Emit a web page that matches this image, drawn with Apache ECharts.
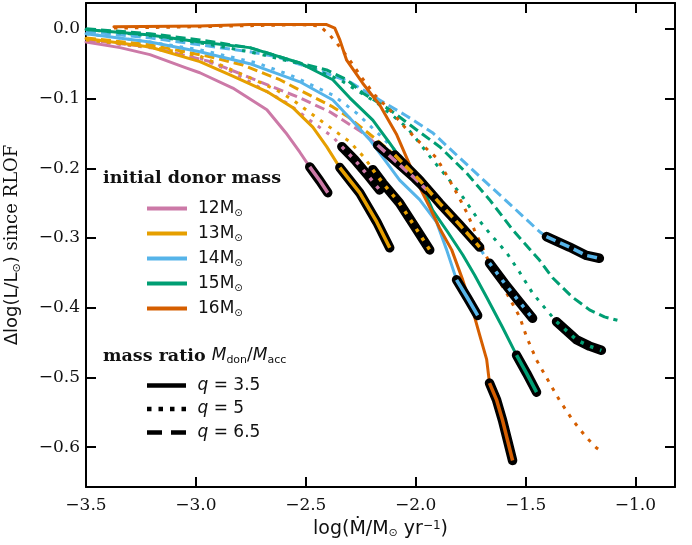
<!DOCTYPE html>
<html>
<head>
<meta charset="utf-8">
<script src="https://cdn.jsdelivr.net/npm/echarts@6/dist/echarts.min.js"></script>
<style>
html,body{margin:0;padding:0;background:#fff}
#chart{width:692px;height:545px}
</style>
</head>
<body>
<div id="chart"></div>
<script>
// ---- tracks: [log(Mdot), dlog L since RLOF] ----
var m12q35 = [[-3.5,-0.019],[-3.345,-0.027],[-3.209,-0.037],[-3.045,-0.056],[-2.982,-0.063],[-2.832,-0.085],[-2.677,-0.116],[-2.591,-0.149],[-2.527,-0.177],[-2.482,-0.198],[-2.436,-0.218],[-2.400,-0.235]];
var m12q5 = [[-3.5,-0.017],[-3.209,-0.027],[-2.982,-0.042],[-2.832,-0.062],[-2.755,-0.076],[-2.677,-0.090],[-2.573,-0.109],[-2.482,-0.131],[-2.377,-0.155],[-2.336,-0.169],[-2.277,-0.188],[-2.218,-0.210],[-2.164,-0.231]];
var m12q65 = [[-3.5,-0.016],[-3.209,-0.026],[-2.936,-0.047],[-2.786,-0.066],[-2.677,-0.080],[-2.527,-0.099],[-2.391,-0.119],[-2.241,-0.149],[-2.173,-0.167],[-2.073,-0.195],[-2.005,-0.214],[-1.950,-0.231]];
var m13q35 = [[-3.5,-0.014],[-3.209,-0.026],[-2.982,-0.047],[-2.832,-0.068],[-2.677,-0.090],[-2.559,-0.113],[-2.468,-0.141],[-2.405,-0.169],[-2.345,-0.199],[-2.255,-0.235],[-2.177,-0.277],[-2.118,-0.314]];
var m13q5 = [[-3.5,-0.016],[-3.209,-0.026],[-2.982,-0.039],[-2.755,-0.070],[-2.632,-0.088],[-2.559,-0.102],[-2.482,-0.120],[-2.391,-0.141],[-2.300,-0.162],[-2.232,-0.185],[-2.195,-0.202],[-2.150,-0.221],[-2.073,-0.250],[-1.995,-0.288],[-1.936,-0.317]];
var m13q65 = [[-3.5,-0.013],[-3.209,-0.023],[-2.936,-0.040],[-2.786,-0.052],[-2.618,-0.073],[-2.527,-0.088],[-2.377,-0.112],[-2.300,-0.128],[-2.186,-0.157],[-2.095,-0.181],[-1.982,-0.217],[-1.891,-0.250],[-1.800,-0.281],[-1.709,-0.313]];
var m14q35 = [[-3.5,-0.007],[-3.209,-0.019],[-2.982,-0.033],[-2.755,-0.050],[-2.527,-0.076],[-2.377,-0.102],[-2.300,-0.128],[-2.209,-0.159],[-2.141,-0.188],[-2.073,-0.217],[-1.982,-0.245],[-1.905,-0.277],[-1.859,-0.317],[-1.814,-0.360],[-1.764,-0.386],[-1.718,-0.411]];
var m14q5 = [[-3.5,-0.007],[-3.209,-0.019],[-2.982,-0.030],[-2.723,-0.049],[-2.573,-0.066],[-2.377,-0.095],[-2.268,-0.121],[-2.164,-0.152],[-2.073,-0.181],[-1.982,-0.214],[-1.891,-0.245],[-1.800,-0.277],[-1.718,-0.310],[-1.664,-0.336],[-1.595,-0.365],[-1.527,-0.392],[-1.468,-0.415]];
var m14q65 = [[-3.5,-0.004],[-3.209,-0.013],[-2.982,-0.023],[-2.755,-0.033],[-2.632,-0.040],[-2.450,-0.059],[-2.300,-0.076],[-2.164,-0.102],[-2.041,-0.125],[-1.923,-0.149],[-1.800,-0.185],[-1.677,-0.221],[-1.559,-0.255],[-1.436,-0.291],[-1.405,-0.298],[-1.300,-0.313],[-1.223,-0.325],[-1.164,-0.329]];
var m15q35 = [[-3.5,-0.001],[-3.209,-0.009],[-2.982,-0.019],[-2.755,-0.027],[-2.527,-0.049],[-2.377,-0.073],[-2.300,-0.099],[-2.195,-0.131],[-2.118,-0.164],[-2.041,-0.198],[-1.968,-0.227],[-1.923,-0.260],[-1.855,-0.291],[-1.786,-0.324],[-1.732,-0.353],[-1.677,-0.385],[-1.605,-0.428],[-1.541,-0.468],[-1.495,-0.494],[-1.450,-0.521]];
var m15q5 = [[-3.5,-0.001],[-3.209,-0.010],[-2.982,-0.020],[-2.755,-0.033],[-2.527,-0.050],[-2.345,-0.073],[-2.177,-0.106],[-2.041,-0.141],[-1.982,-0.164],[-1.923,-0.188],[-1.859,-0.212],[-1.786,-0.241],[-1.723,-0.270],[-1.664,-0.293],[-1.586,-0.321],[-1.527,-0.349],[-1.468,-0.379],[-1.405,-0.403],[-1.359,-0.420],[-1.268,-0.446],[-1.209,-0.455],[-1.155,-0.461]];
var m15q65 = [[-3.5,0.0],[-3.209,-0.007],[-2.982,-0.016],[-2.755,-0.027],[-2.527,-0.049],[-2.405,-0.059],[-2.314,-0.073],[-2.241,-0.092],[-2.118,-0.116],[-1.995,-0.145],[-1.891,-0.169],[-1.768,-0.207],[-1.664,-0.245],[-1.559,-0.288],[-1.436,-0.332],[-1.377,-0.357],[-1.286,-0.385],[-1.209,-0.403],[-1.141,-0.413],[-1.082,-0.418]];
var m16q35 = [[-3.373,0.003],[-2.982,0.004],[-2.755,0.006],[-2.527,0.006],[-2.405,0.006],[-2.368,0.001],[-2.345,-0.016],[-2.314,-0.045],[-2.241,-0.078],[-2.164,-0.109],[-2.086,-0.152],[-2.027,-0.195],[-1.982,-0.227],[-1.936,-0.256],[-1.891,-0.286],[-1.836,-0.317],[-1.786,-0.360],[-1.741,-0.403],[-1.709,-0.439],[-1.677,-0.474],[-1.664,-0.508],[-1.632,-0.532],[-1.605,-0.561],[-1.582,-0.590],[-1.559,-0.619]];
var m16q5 = [[-3.373,0.001],[-2.982,0.003],[-2.527,0.006],[-2.436,0.004],[-2.391,-0.009],[-2.345,-0.026],[-2.300,-0.045],[-2.245,-0.070],[-2.186,-0.095],[-2.118,-0.116],[-2.050,-0.141],[-1.968,-0.167],[-1.905,-0.185],[-1.859,-0.210],[-1.814,-0.235],[-1.768,-0.263],[-1.732,-0.289],[-1.695,-0.314],[-1.650,-0.346],[-1.586,-0.379],[-1.527,-0.413],[-1.495,-0.442],[-1.450,-0.475],[-1.405,-0.500],[-1.345,-0.533],[-1.286,-0.561],[-1.223,-0.586],[-1.177,-0.601],[-1.150,-0.607]];

var massNames = ['12M', '13M', '14M', '15M', '16M'];
var massColors = ['#CC79A7', '#E69F00', '#56B4E9', '#009E73', '#D55E00'];
var qNames = ['q = 3.5', 'q = 5', 'q = 6.5'];
var xTicks = [-3.5, -3.0, -2.5, -2.0, -1.5, -1.0];
var yTicks = [0, -0.1, -0.2, -0.3, -0.4, -0.5, -0.6];

// [mass index, q index, track, index where the black-outlined end part starts (-1 = none)]
var tracks = [
	[0, 0, m12q35, 9], [0, 1, m12q5, 9], [0, 2, m12q65, 8],
	[1, 0, m13q35, 8], [1, 1, m13q5, 10], [1, 2, m13q65, 9],
	[2, 0, m14q35, 13], [2, 1, m14q5, 13], [2, 2, m14q65, 14],
	[3, 0, m15q35, 17], [3, 1, m15q5, 18], [3, 2, m15q65, -1],
	[4, 0, m16q35, 20], [4, 1, m16q5, -1]
];
var dashes = ['solid', [3.5, 7], [10, 5]];

var series = [], overlays = [];
tracks.forEach(function(t, i){
	var col = massColors[t[0]], dash = dashes[t[1]];
	series.push({
		type: 'line', name: 'track' + i, data: t[2], symbol: 'none', silent: true, z: 2,
		lineStyle: {color: col, width: 3, type: dash, cap: t[1] === 0 ? 'round' : 'butt', join: 'round'}
	});
	if (t[3] >= 0) {
		var seg = t[2].slice(t[3]);
		series.push({
			type: 'line', name: 'outline' + i, data: seg, symbol: 'none', silent: true, z: 3,
			lineStyle: {color: '#000', width: 9.5, cap: 'round', join: 'round'}
		});
		overlays.push({
			type: 'line', name: 'end' + i, data: seg, symbol: 'none', silent: true, z: 4,
			lineStyle: {color: col, width: 3.5, type: dash, join: 'round'}
		});
	}
});
series = series.concat(overlays);

// empty series only for the two legends
massNames.forEach(function(n, i){
	series.push({type: 'line', name: n, data: [], color: massColors[i], symbol: 'none'});
});
qNames.forEach(function(n){
	series.push({type: 'line', name: n, data: [], color: '#000', symbol: 'none'});
});

var qIcons = [
	'path://M0,0H39V4.5H0Z',
	'path://M0,0h4.5v4.5h-4.5z M11.5,0h4.5v4.5h-4.5z M23,0h4.5v4.5h-4.5z M34.5,0h4.5v4.5h-4.5z',
	'path://M0,0h15v4.5h-15z M24,0h15v4.5h-15z'
];

function tickFmt(v){
	if (Math.abs(v) < 1e-9) return '0.0';
	return (v < 0 ? '\u2212' : '') + Math.abs(v).toFixed(1);
}

var axisFont = {fontFamily: 'DejaVu Serif', fontSize: 17, color: '#111'};
var spine = {show: true, onZero: false, lineStyle: {color: '#000', width: 2}};

function xAx(pos, withLabels){
	return {
		type: 'value', position: pos, min: -3.5, max: -0.82,
		axisLine: spine,
		axisTick: {show: true, inside: true, length: 10, customValues: xTicks, lineStyle: {color: '#000', width: 2}},
		axisLabel: withLabels ? Object.assign({show: true, margin: 10, customValues: xTicks, formatter: tickFmt}, axisFont) : {show: false},
		splitLine: {show: false},
		name: withLabels ? 'log({a|Ṁ}/M{s|⊙} yr{p|\u22121})' : '',
		nameLocation: 'middle', nameGap: 33,
		nameTextStyle: {
			fontFamily: 'DejaVu Sans', fontSize: 19, color: '#111',
			rich: {
				a: {fontFamily: 'DejaVu Sans', fontSize: 19, color: '#111'},
				s: {fontFamily: 'DejaVu Sans', fontSize: 11, color: '#111', verticalAlign: 'bottom', lineHeight: 12},
				p: {fontFamily: 'DejaVu Sans', fontSize: 12, color: '#111', verticalAlign: 'top', lineHeight: 12}
			}
		}
	};
}
function yAx(pos, withLabels){
	return {
		type: 'value', position: pos, min: -0.657, max: 0.037,
		axisLine: spine,
		axisTick: {show: true, inside: true, length: 10, customValues: yTicks, lineStyle: {color: '#000', width: 2}},
		axisLabel: withLabels ? Object.assign({show: true, margin: 6, customValues: yTicks, formatter: tickFmt}, axisFont) : {show: false},
		splitLine: {show: false},
		name: withLabels ? '{a|Δlog(L/L}{s|⊙}{a|)}{b| since RLOF}' : '',
		nameLocation: 'middle', nameGap: 63,
		nameTextStyle: {
			fontSize: 18, color: '#111',
			rich: {
				a: {fontFamily: 'DejaVu Sans', fontSize: 18, color: '#111', lineHeight: 22},
				s: {fontFamily: 'DejaVu Sans', fontSize: 11, color: '#111', verticalAlign: 'bottom', lineHeight: 12},
				b: {fontFamily: 'DejaVu Serif', fontSize: 18, color: '#111', lineHeight: 22}
			}
		}
	};
}

var legendText = {
	fontFamily: 'DejaVu Sans', fontSize: 17, color: '#111',
	rich: {
		a: {fontFamily: 'DejaVu Sans', fontSize: 17, color: '#111', padding: [0, 0, 0, 6], lineHeight: 20},
		s: {fontFamily: 'DejaVu Sans', fontSize: 10, color: '#111', verticalAlign: 'bottom', lineHeight: 12},
		i: {fontFamily: 'DejaVu Sans', fontStyle: 'italic', fontSize: 17, color: '#111', padding: [0, 0, 0, 6], lineHeight: 20},
		t: {fontFamily: 'DejaVu Sans', fontSize: 17, color: '#111', lineHeight: 20}
	}
};

var option = {
	animation: false,
	backgroundColor: '#fff',
	grid: {left: 86, right: 17, top: 3, bottom: 58, outerBoundsMode: 'none', containLabel: false},
	xAxis: [xAx('bottom', true), xAx('top', false)],
	yAxis: [yAx('left', true), yAx('right', false)],
	legend: [
		{
			orient: 'vertical', left: 142, top: 195, itemWidth: 40, itemHeight: 4, itemGap: 6.5,
			selectedMode: false, icon: 'rect',
			data: massNames,
			formatter: function(n){ return '{a|' + n + '}{s|⊙}'; },
			textStyle: legendText
		},
		{
			orient: 'vertical', left: 142, top: 372, itemWidth: 40, itemHeight: 4.5, itemGap: 6.5,
			selectedMode: false,
			data: qNames.map(function(n, i){ return {name: n, icon: qIcons[i]}; }),
			formatter: function(n){ return '{i|q}{t|' + n.slice(1) + '}'; },
			textStyle: legendText
		}
	],
	graphic: [
		{
			type: 'text', left: 103, top: 169,
			style: {text: 'initial donor mass', font: 'bold 17.5px "DejaVu Serif"', fill: '#111'}
		},
		{
			type: 'text', left: 103, top: 347,
			style: {
				text: '{b|mass ratio }{i|M}{s|don}{t|/}{i|M}{s|acc}',
				rich: {
					b: {font: 'bold 17.5px "DejaVu Serif"', fill: '#111', lineHeight: 20},
					i: {font: 'italic 17px "DejaVu Sans"', fill: '#111', lineHeight: 20},
					t: {font: '17px "DejaVu Sans"', fill: '#111', lineHeight: 20},
					s: {font: '11px "DejaVu Sans"', fill: '#111', verticalAlign: 'bottom', lineHeight: 12}
				}
			}
		}
	],
	series: series
};

var chart = echarts.init(document.getElementById('chart'));
chart.setOption(option);
</script>
</body>
</html>
